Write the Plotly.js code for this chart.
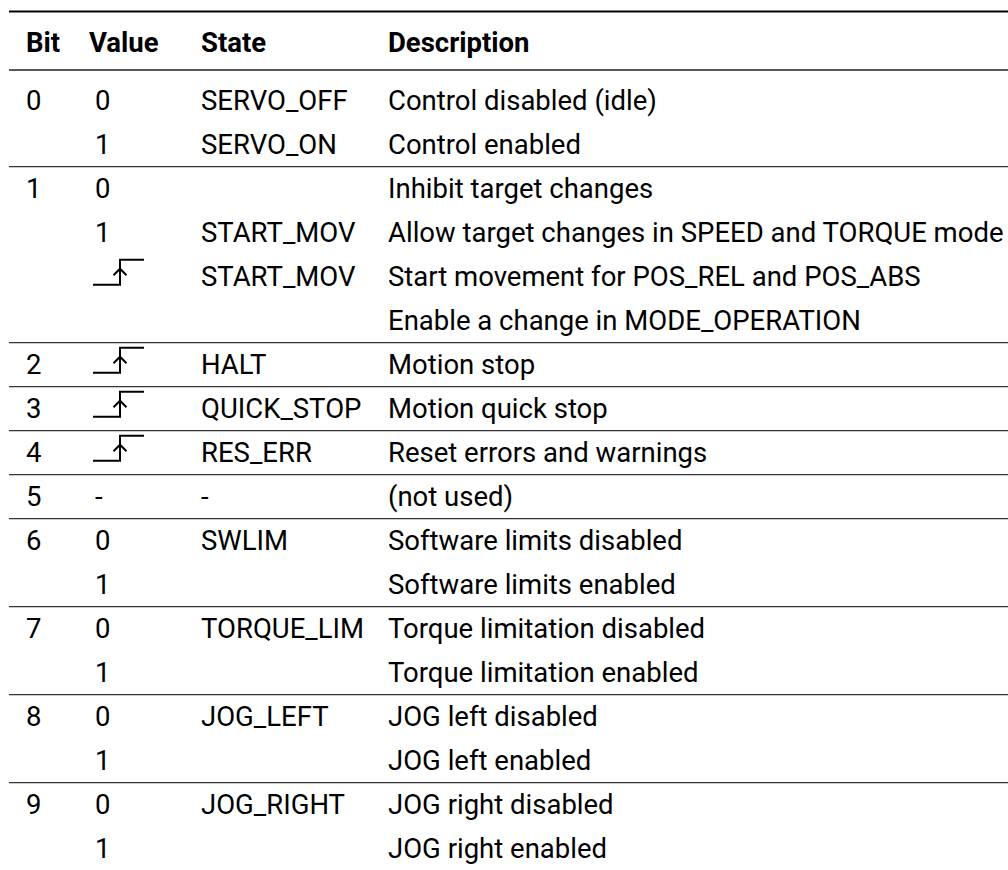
<!DOCTYPE html>
<html>
<head>
<meta charset="utf-8">
<script src="https://cdn.plot.ly/plotly-3.0.1.min.js"></script>
<style>html,body{margin:0;padding:0;background:#fff;}#chart{width:1008px;height:870px;}</style>
</head>
<body>
<div id="chart"></div>
<script>
// ---- table content ----
var headers = ["Bit", "Value", "State", "Description"];
var bits = ["0", "", "1", "", "", "", "2", "3", "4", "5", "6", "", "7", "", "8", "", "9", ""];
var values = ["0", "1", "0", "1", "RISE", "", "RISE", "RISE", "RISE", "-", "0", "1", "0", "1", "0", "1", "0", "1"];
var states = ["SERVO_OFF", "SERVO_ON", "", "START_MOV", "START_MOV", "", "HALT", "QUICK_STOP", "RES_ERR", "-",
              "SWLIM", "", "TORQUE_LIM", "", "JOG_LEFT", "", "JOG_RIGHT", ""];
var descriptions = [
  "Control disabled (idle)",
  "Control enabled",
  "Inhibit target changes",
  "Allow target changes in SPEED and TORQUE mode",
  "Start movement for POS_REL and POS_ABS",
  "Enable a change in MODE_OPERATION",
  "Motion stop",
  "Motion quick stop",
  "Reset errors and warnings",
  "(not used)",
  "Software limits disabled",
  "Software limits enabled",
  "Torque limitation disabled",
  "Torque limitation enabled",
  "JOG left disabled",
  "JOG left enabled",
  "JOG right disabled",
  "JOG right enabled"
];

// ---- layout constants (style) ----
var W = 1008, H = 870;
var FONT = "Roboto, 'DejaVu Sans', sans-serif";
var FS = 27.5;
var headerY = 42.5;
var topRuleY = 11.5, midRuleY = 70;
var bodyTop = 78.7, rowH = 44;
var ruleX0 = 9;
var PAD = 2; // annotation internal padding
var headerX = [26, 89, 201, 388];
var colX = [26, 95, 201, 388];

function rowCenter(i) { return bodyTop + rowH / 2 + rowH * i; }

var annotations = [];
function addText(x, y, txt, bold) {
  annotations.push({
    x: x - PAD, y: y, xref: "x", yref: "y", text: txt, showarrow: false,
    xanchor: "left", yanchor: "middle",
    font: {family: FONT, size: FS, color: "#000", weight: bold ? 900 : 400}
  });
}
headers.forEach(function (h, k) { addText(headerX[k], headerY, "<b>" + h + "</b>", true); });

var edgeX = [], edgeY = [], arrX = [], arrY = [];
for (var i = 0; i < descriptions.length; i++) {
  var r = rowCenter(i);
  if (bits[i]) addText(colX[0], r, bits[i], false);
  if (values[i] === "RISE") {
    edgeX.push(93, 120, 120, 144, null);
    edgeY.push(r + 8, r + 8, r - 17, r - 17, null);
    arrX.push(113.5, 120, 126.5, null);
    arrY.push(r - 1.5, r - 8, r - 1.5, null);
  } else if (values[i]) {
    addText(colX[1], r, values[i], false);
  }
  if (states[i]) addText(colX[2], r, states[i], false);
  addText(colX[3], r, descriptions[i], false);
}

var shapes = [];
function hline(y, w, c) {
  shapes.push({type: "line", xref: "x", yref: "y", x0: ruleX0, x1: W + 5, y0: y, y1: y,
               line: {color: c, width: w}});
}
hline(topRuleY, 2, "#000");
hline(midRuleY, 1.4, "#222");
for (var j = 1; j < bits.length; j++) {
  if (bits[j]) hline(bodyTop + rowH * j, 1.2, "#333");
}

var traces = [
  {x: edgeX, y: edgeY, mode: "lines", type: "scatter", line: {color: "#000", width: 2}, hoverinfo: "skip"},
  {x: arrX, y: arrY, mode: "lines", type: "scatter", line: {color: "#000", width: 2}, hoverinfo: "skip"}
];

Plotly.newPlot("chart", traces, {
  width: W, height: H,
  margin: {l: 0, r: 0, t: 0, b: 0},
  paper_bgcolor: "#fff", plot_bgcolor: "#fff",
  showlegend: false,
  xaxis: {range: [0, W], visible: false, fixedrange: true},
  yaxis: {range: [H, 0], visible: false, fixedrange: true},
  annotations: annotations,
  shapes: shapes
}, {staticPlot: true});
</script>
</body>
</html>
